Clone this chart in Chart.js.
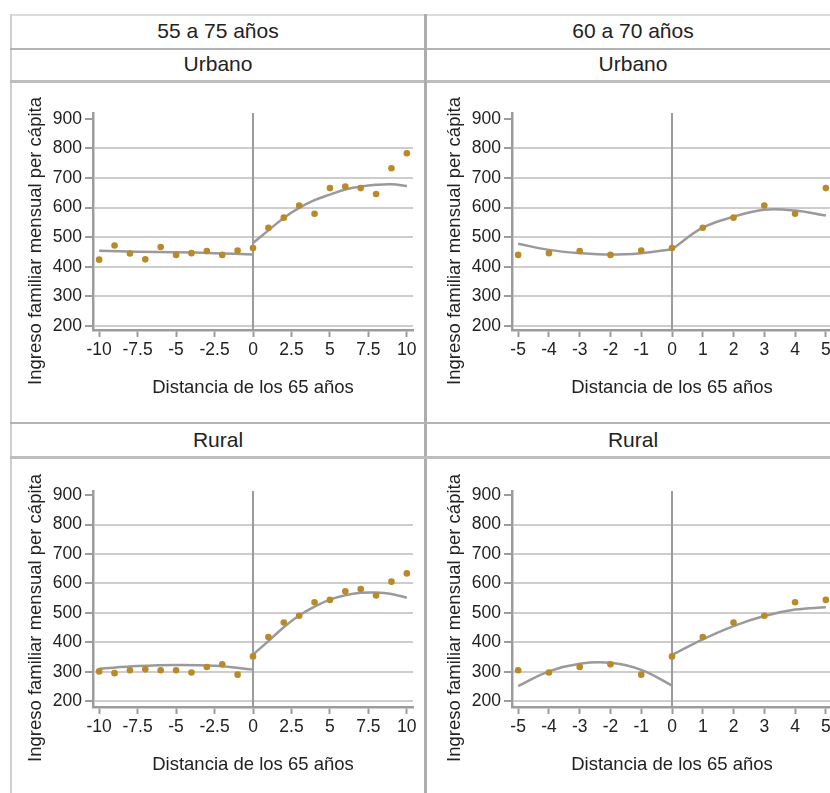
<!DOCTYPE html>
<html lang="es">
<head>
<meta charset="utf-8">
<title>Ingreso familiar mensual per cápita</title>
<script src="https://cdn.jsdelivr.net/npm/chart.js@4.4.1/dist/chart.umd.min.js"></script>
<style>
  html, body { margin: 0; padding: 0; background: #fff; overflow: hidden; width: 830px; height: 793px; }
  body { position: relative; font-family: 'Liberation Sans', Arial, sans-serif; color: #222; }
  .rule { position: absolute; }
  .head { position: absolute; text-align: center; font-size: 21px; line-height: 1; }
  canvas { position: absolute; }
</style>
</head>
<body>
<!-- table frame -->
<div class="rule" style="left:10px;top:14px;width:830px;height:2px;background:#dcdcdc"></div>
<div class="rule" style="left:10px;top:14px;width:2px;height:780px;background:#cfcfcf"></div>
<div class="rule" style="left:10px;top:48px;width:830px;height:2px;background:#b3b3b3"></div>
<div class="rule" style="left:10px;top:80px;width:830px;height:3px;background:#bdbdbd"></div>
<div class="rule" style="left:424px;top:14px;width:3px;height:780px;background:#adadad"></div>
<div class="rule" style="left:10px;top:422px;width:830px;height:2px;background:#b3b3b3"></div>
<div class="rule" style="left:10px;top:456px;width:830px;height:3px;background:#bdbdbd"></div>

<div class="head" style="left:12px;width:412px;top:20px">55 a 75 años</div>
<div class="head" style="left:427px;width:412px;top:20px">60 a 70 años</div>
<div class="head" style="left:12px;width:412px;top:53px">Urbano</div>
<div class="head" style="left:427px;width:412px;top:53px">Urbano</div>
<div class="head" style="left:12px;width:412px;top:429px">Rural</div>
<div class="head" style="left:427px;width:412px;top:429px">Rural</div>

<canvas id="urbWide"   style="left:12px;top:83px"  width="412" height="338"></canvas>
<canvas id="urbNarrow" style="left:431px;top:83px" width="412" height="338"></canvas>
<canvas id="rurWide"   style="left:12px;top:460px" width="412" height="338"></canvas>
<canvas id="rurNarrow" style="left:431px;top:460px" width="412" height="338"></canvas>

<script>
// Distance from age 65 (years)
const distance = [-10, -9, -8, -7, -6, -5, -4, -3, -2, -1, 0, 1, 2, 3, 4, 5, 6, 7, 8, 9, 10];

// Mean monthly household income per capita at each distance
const urbanIncome = [424, 472, 445, 425, 467, 440, 446, 453, 440, 455, 463, 532, 566, 607, 579, 666, 671, 666, 646, 733, 784];
const ruralIncome = [301, 295, 305, 308, 305, 305, 297, 316, 325, 290, 352, 418, 467, 490, 536, 544, 573, 581, 559, 606, 634];

// Fitted curves, either side of the cutoff
const urbanWideLeftX  = [-10, -7.5, -5, -2.5, 0];
const urbanWideLeftY  = [454, 451, 449, 446, 441];
const urbanWideRightX = [0, 1, 2, 3, 4, 5, 6, 7, 8, 9, 10];
const urbanWideRightY = [480, 523, 565, 599, 625, 644, 661, 671, 677, 679, 673];

const urbanNarrowLeftX  = [-5, -4, -3, -2, -1, 0];
const urbanNarrowLeftY  = [478, 457, 446, 441, 446, 459];
const urbanNarrowRightX = [0, 1, 2, 3, 4, 5];
const urbanNarrowRightY = [459, 532, 569, 593, 590, 573];

const ruralWideLeftX  = [-10, -7.5, -5, -2.5, 0];
const ruralWideLeftY  = [310, 319, 323, 320, 307];
const ruralWideRightX = [0, 1, 2, 3, 4, 5, 6, 7, 8, 9, 10];
const ruralWideRightY = [358, 404, 451, 491, 521, 545, 560, 568, 569, 564, 551];

const ruralNarrowLeftX  = [-5, -4, -3, -2, -1, 0];
const ruralNarrowLeftY  = [251, 301, 327, 330, 306, 253];
const ruralNarrowRightX = [0, 1, 2, 3, 4, 5];
const ruralNarrowRightY = [357, 410, 455, 489, 511, 519];

// Tick labels
const wideTicks   = [-10, -7.5, -5, -2.5, 0, 2.5, 5, 7.5, 10];
const narrowTicks = [-5, -4, -3, -2, -1, 0, 1, 2, 3, 4, 5];
const incomeTicks = [200, 300, 400, 500, 600, 700, 800, 900];

const xTitle = 'Distancia de los 65 años';
const yTitle = 'Ingreso familiar mensual per cápita';

const POINT = '#b98a27';
const LINE = '#9a9a9a';
const AXIS = '#9c9c9c';
const GRID = '#cdcdcd';
const FONT = "'Liberation Sans', Arial, sans-serif";

Chart.defaults.font.family = FONT;
Chart.defaults.color = '#222';

// Vertical axis title, centred on the whole panel rather than on the scale
const panelYTitle = {
  id: 'panelYTitle',
  afterDraw(chart) {
    const { ctx, height } = chart;
    ctx.save();
    ctx.font = '18.5px ' + FONT;
    ctx.fillStyle = '#222';
    ctx.textAlign = 'center';
    ctx.textBaseline = 'middle';
    ctx.translate(23.6, height / 2 - 11);
    ctx.rotate(-Math.PI / 2);
    ctx.fillText(yTitle, 0, 0);
    ctx.restore();
  }
};

function pairs(xs, ys) { return xs.map((x, i) => ({ x, y: ys[i] })); }

function indicesWithin(lo, hi) {
  const out = [];
  distance.forEach((d, i) => { if (d >= lo && d <= hi) out.push(i); });
  return out;
}

function panel(id, cfg) {
  const idx = indicesWithin(cfg.xTicks[0], cfg.xTicks[cfg.xTicks.length - 1]);
  const points = idx.map(i => ({ x: distance[i], y: cfg.values[i] }));
  const curve = (data) => ({
    data, showLine: true, pointRadius: 0, borderColor: LINE, borderWidth: 2.5,
    tension: 0.4, fill: false, order: 1
  });
  new Chart(document.getElementById(id), {
    type: 'scatter',
    plugins: [panelYTitle],
    data: {
      datasets: [
        { data: points, pointRadius: 3.3, pointBackgroundColor: POINT, pointBorderWidth: 0, order: 0 },
        curve(pairs(cfg.leftX, cfg.leftY)),
        curve(pairs(cfg.rightX, cfg.rightY)),
        { data: [{ x: 0, y: cfg.yMin }, { x: 0, y: cfg.yMax }], showLine: true, pointRadius: 0,
          borderColor: AXIS, borderWidth: 2, order: 2 }
      ]
    },
    options: {
      responsive: false,
      animation: false,
      events: [],
      layout: { padding: { top: cfg.padTop, right: 11, bottom: 20, left: 0 } },
      plugins: { legend: { display: false }, tooltip: { enabled: false } },
      scales: {
        x: {
          type: 'linear', position: 'bottom', min: cfg.xMin, max: cfg.xMax,
          afterBuildTicks: s => { s.ticks = cfg.xTicks.map(v => ({ value: v })); },
          afterFit: s => { s.height = 71; },
          ticks: { callback: v => String(v), font: { size: 17.5 }, color: '#222', padding: 3, maxRotation: 0, autoSkip: false },
          grid: { drawOnChartArea: false, drawTicks: true, tickLength: 7, tickColor: AXIS, tickWidth: 2 },
          border: { color: AXIS, width: 2.5 },
          title: { display: true, text: xTitle, font: { size: 18.5 }, color: '#222', padding: { top: 4, bottom: 2 } }
        },
        y: {
          type: 'linear', position: 'left', min: cfg.yMin, max: cfg.yMax,
          afterBuildTicks: s => { s.ticks = incomeTicks.map(v => ({ value: v })); },
          afterFit: s => { s.width = 81; },
          ticks: { callback: v => String(v), font: { size: 17.5 }, color: '#222', padding: 3 },
          grid: {
            color: c => (c.tick && c.tick.value === 900 ? 'rgba(0,0,0,0)' : GRID),
            lineWidth: 2, drawTicks: true, tickLength: 8, tickColor: AXIS, tickWidth: 2
          },
          border: { color: AXIS, width: 2.5 },
          title: { display: false }
        }
      }
    }
  });
}

panel('urbWide', {
  values: urbanIncome, xTicks: wideTicks, xMin: -10.4, xMax: 10.4, yMin: 186, yMax: 920, padTop: 30,
  leftX: urbanWideLeftX, leftY: urbanWideLeftY, rightX: urbanWideRightX, rightY: urbanWideRightY
});
panel('urbNarrow', {
  values: urbanIncome, xTicks: narrowTicks, xMin: -5.2, xMax: 5.2, yMin: 186, yMax: 920, padTop: 30,
  leftX: urbanNarrowLeftX, leftY: urbanNarrowLeftY, rightX: urbanNarrowRightX, rightY: urbanNarrowRightY
});
panel('rurWide', {
  values: ruralIncome, xTicks: wideTicks, xMin: -10.4, xMax: 10.4, yMin: 180, yMax: 914, padTop: 31,
  leftX: ruralWideLeftX, leftY: ruralWideLeftY, rightX: ruralWideRightX, rightY: ruralWideRightY
});
panel('rurNarrow', {
  values: ruralIncome, xTicks: narrowTicks, xMin: -5.2, xMax: 5.2, yMin: 180, yMax: 914, padTop: 31,
  leftX: ruralNarrowLeftX, leftY: ruralNarrowLeftY, rightX: ruralNarrowRightX, rightY: ruralNarrowRightY
});
</script>
</body>
</html>
